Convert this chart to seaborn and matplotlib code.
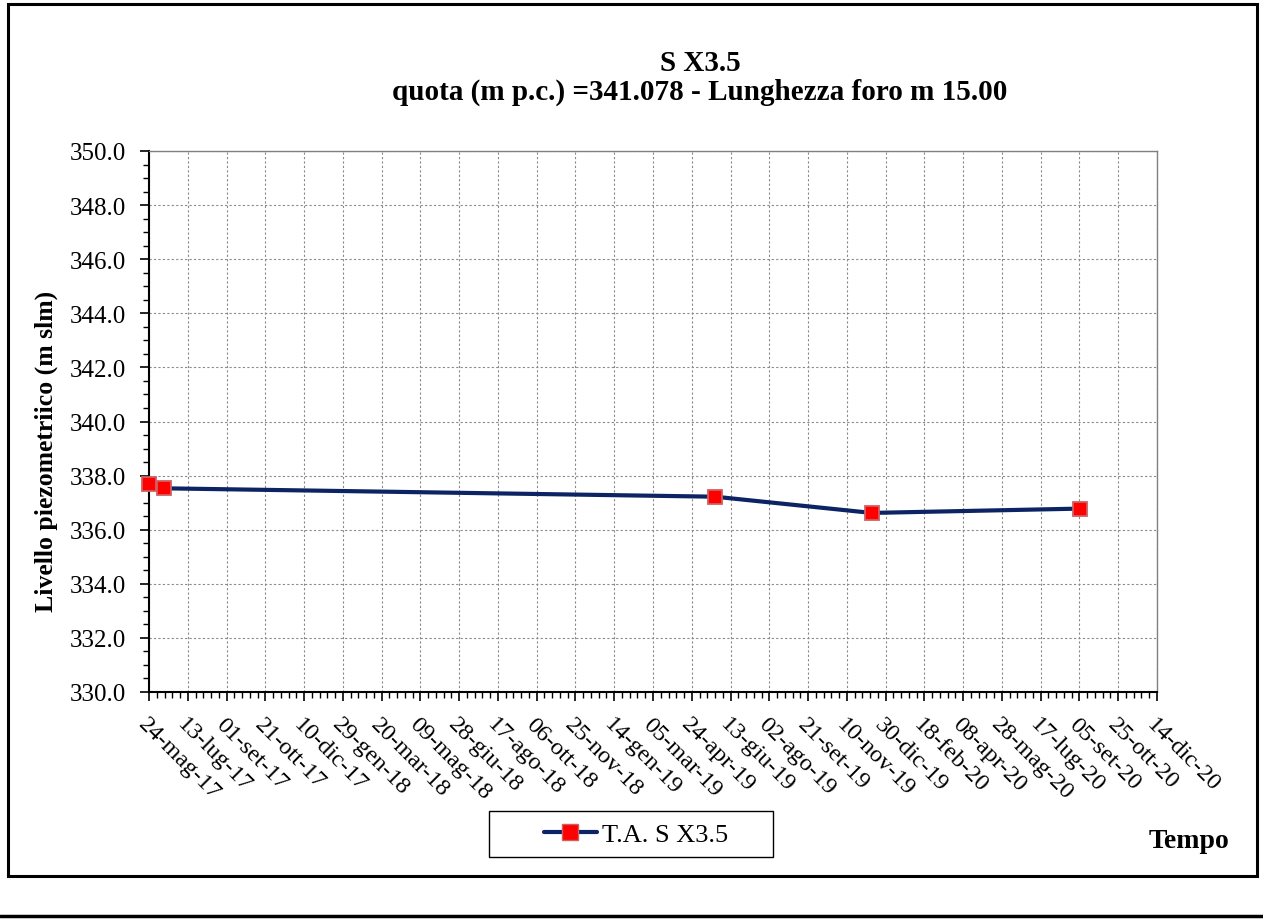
import matplotlib
matplotlib.use("Agg")
import matplotlib.pyplot as plt
import matplotlib.dates as mdates
import matplotlib.transforms as mtransforms
from matplotlib.patches import Rectangle
from matplotlib.lines import Line2D
from matplotlib.ticker import MultipleLocator, FixedLocator
import seaborn as sns
import pandas as pd
import numpy as np

# ---- data ----
dates = ["2017-05-24", "2017-06-12", "2019-05-24", "2019-12-12", "2020-09-06"]
livello = [337.69, 337.53, 337.22, 336.62, 336.78]
series_name = "T.A. S X3.5"

tick_start = "2017-05-24"
tick_step_days = 50
tick_labels = ["24-mag-17", "13-lug-17", "01-set-17", "21-ott-17", "10-dic-17",
               "29-gen-18", "20-mar-18", "09-mag-18", "28-giu-18", "17-ago-18",
               "06-ott-18", "25-nov-18", "14-gen-19", "05-mar-19", "24-apr-19",
               "13-giu-19", "02-ago-19", "21-set-19", "10-nov-19", "30-dic-19",
               "18-feb-20", "08-apr-20", "28-mag-20", "17-lug-20", "05-set-20",
               "25-ott-20", "14-dic-20"]
y_ticks = [330.0, 332.0, 334.0, 336.0, 338.0, 340.0, 342.0, 344.0, 346.0, 348.0, 350.0]

title = "S X3.5\nquota (m p.c.) =341.078 - Lunghezza foro m 15.00"
ylabel = "Livello piezometriico (m slm)"
xlabel = "Tempo"

sns.set_theme(style="white")
plt.rcParams['font.family'] = ['Liberation Serif', 'DejaVu Serif']
plt.rcParams['text.color'] = 'black'
plt.rcParams['xtick.color'] = 'black'
plt.rcParams['ytick.color'] = 'black'
plt.rcParams['axes.labelcolor'] = 'black'

W, H = 1263, 920
df = pd.DataFrame({"data": pd.to_datetime(dates), "livello": livello})

fig = plt.figure(figsize=(W/100, H/100), dpi=100)
ax = fig.add_axes([149/W, 1-693/H, (1157-149)/W, (693-152)/H])

navy = "#0c2463"
sns.lineplot(data=df, x="data", y="livello", ax=ax, color=navy, linewidth=3.0,
             marker="s", markersize=10.5, markerfacecolor="#ff0000",
             markeredgecolor="#d06060", markeredgewidth=1.3, zorder=5,
             legend=False, clip_on=False)

start = mdates.date2num(pd.Timestamp(tick_start))
major = [start + i*tick_step_days for i in range(len(tick_labels))]
minor = [start + i*10 for i in range((len(tick_labels)-1)*5 + 1)]
ax.set_xlim(major[0], major[-1])
ax.xaxis.set_major_locator(FixedLocator(major))
ax.xaxis.set_minor_locator(FixedLocator(minor))
ax.set_xticklabels(tick_labels, rotation=-45, ha="left", va="top",
                   rotation_mode="anchor", fontsize=17.5, color="black")
offset = mtransforms.ScaledTranslation(9/100, 0, fig.dpi_scale_trans)
for lab in ax.get_xticklabels():
    lab.set_transform(lab.get_transform() + offset)

ax.set_ylim(330, 350)
ax.yaxis.set_major_locator(FixedLocator(y_ticks))
ax.yaxis.set_minor_locator(MultipleLocator(0.5))
ax.set_yticklabels([f"{v:.1f}" for v in y_ticks], fontsize=18, color="black")

ax.grid(True, which="major", color="#8a8a8a", linestyle=(0, (2, 2)), linewidth=0.8)
ax.tick_params(axis="both", which="major", direction="out", length=6.5, width=1.2,
               color="black", bottom=True, left=True)
ax.tick_params(axis="both", which="minor", direction="out", length=4.5, width=1.0,
               color="black", bottom=True, left=True)
ax.tick_params(axis="x", which="major", pad=9)
ax.tick_params(axis="y", which="major", pad=10)
for s in ["left", "bottom"]:
    ax.spines[s].set_color("black")
    ax.spines[s].set_linewidth(1.5)
for s in ["top", "right"]:
    ax.spines[s].set_color("#808080")
    ax.spines[s].set_linewidth(1.0)

ax.set_xlabel("")
ax.set_ylabel("")
fig.text(46/W, 1-451/H, ylabel, rotation=90, fontsize=18.5, fontweight="bold",
         ha="center", va="center", color="black")
fig.text(700/W, 1-78/H, title, fontsize=21, fontweight="bold",
         ha="center", va="center", linespacing=1.1, color="black")
fig.text(1189/W, 1-842/H, xlabel, fontsize=20, fontweight="bold",
         ha="center", va="center", color="black")

# legend
handle = Line2D([], [], color=navy, linewidth=3.0, marker="s", markersize=11,
                markerfacecolor="#ff0000", markeredgecolor="#d06060")
leg = fig.legend([handle], [series_name], loc="center",
                 bbox_to_anchor=(636/W, 1-835/H), fontsize=19,
                 frameon=False, borderpad=0, handlelength=2.0,
                 borderaxespad=0, handletextpad=0.2, labelcolor="black")
fig.patches.append(Rectangle((489/W, 1-858/H), (773-489)/W, (858-812)/H,
                             transform=fig.transFigure, fill=False,
                             edgecolor="black", linewidth=1.0))

# outer frame
fig.patches.append(Rectangle((8/W, 1-877/H), (1257-8)/W, (877-5)/H,
                             transform=fig.transFigure, fill=False,
                             edgecolor="black", linewidth=2.2))
fig.add_artist(Line2D([0, 1], [1-917/H, 1-917/H], transform=fig.transFigure,
                      color="black", linewidth=2.5))

fig.savefig("out.png", dpi=100)
